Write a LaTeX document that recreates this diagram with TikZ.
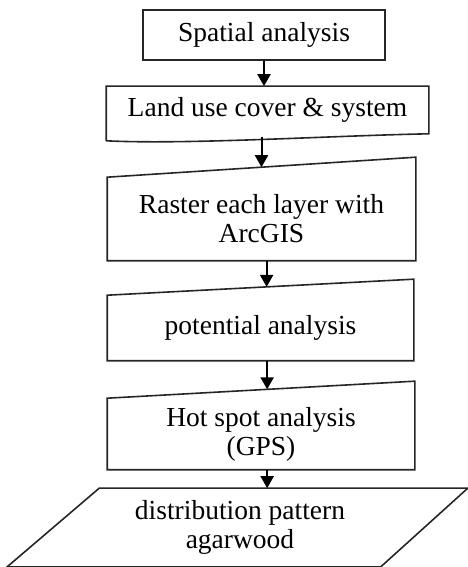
\documentclass[tikz,border=0pt]{standalone}
\usepackage{fontspec}
\setmainfont{Liberation Serif}
\usetikzlibrary{
  arrows.meta,
  calc,
  positioning
}
\tikzset{
  >=stealth,
  line join=round,
  every picture/.style={line width=0.8pt},
  box/.style n args={2}{minimum width=#1, minimum height=#2, inner sep=0pt, align=center,
    font=\fontsize{13.75}{14.5}\selectfont},
  outline/.style={draw=black!85, line width=0.8pt},
  arrow/.style={-{Triangle[length=6pt,width=6.5pt]}, line width=1pt}
}

\begin{document}
\begin{tikzpicture}[x=0.5pt,y=0.5pt]
    \useasboundingbox (0,0) rectangle (467,567);

    % 단계별 노드
    \node[box={121pt}{25pt}, outline] (spatial) at (264,532) {Spatial analysis};
    \node[box={160.5pt}{23pt}] (landuse) at (267.5,457) {Land use cover \& system};
    \node[box={153.5pt}{41pt}] (raster) at (261.5,348) {Raster each layer with\\ArcGIS};
    \node[box={152.5pt}{32pt}] (potential) at (260.5,239) {potential analysis};
    \node[box={153pt}{35pt}] (hotspot) at (261,133) {Hot spot analysis\\(GPS)};
    \node[box={140pt}{38.5pt}] (distr) at (240,39.5) {distribution pattern\\agarwood};

    % 문서 모양 (아래쪽 물결)
    \draw[outline] ([yshift=-3.5pt]landuse.south west) -- (landuse.north west) -- (landuse.north east)
        -- (landuse.south east) .. controls +(-50pt,-1pt) and +(40pt,-2pt) .. ([yshift=-3.5pt]landuse.south west);

    % 수동 입력 모양 (기울어진 윗변)
    \draw[outline] (raster.south west) -- (raster.north west) -- ([yshift=10pt]raster.north east)
        -- (raster.south east) -- cycle;
    \draw[outline] (potential.south west) -- (potential.north west) -- ([yshift=8pt]potential.north east)
        -- (potential.south east) -- cycle;
    \draw[outline] (hotspot.south west) -- (hotspot.north west) -- ([yshift=8.5pt]hotspot.north east)
        -- (hotspot.south east) -- cycle;

    % 평행사변형
    \draw[outline] (distr.north west) -- ([xshift=43.5pt]distr.north east) -- (distr.south east)
        -- ([xshift=-46pt]distr.south west) -- cycle;

    % 화살표 끝점
    \coordinate (rastertop) at ($(raster.north west)!0.5!([yshift=10pt]raster.north east)$);
    \coordinate (pottop) at ($(potential.north west)!0.52!([yshift=8pt]potential.north east)$);
    \coordinate (hottop) at ($(hotspot.north west)!0.52!([yshift=8.5pt]hotspot.north east)$);

    % 화살표
    \draw[arrow] (spatial.south) -- (spatial.south |- landuse.north);
    \draw[arrow] ($(landuse.south -| rastertop)+(0,-3)$) -- (rastertop);
    \draw[arrow] (raster.south -| pottop) -- (pottop);
    \draw[arrow] (potential.south -| hottop) -- (hottop);
    \draw[arrow] (hotspot.south -| hottop) -- (hottop |- distr.north);
\end{tikzpicture}
\end{document}
